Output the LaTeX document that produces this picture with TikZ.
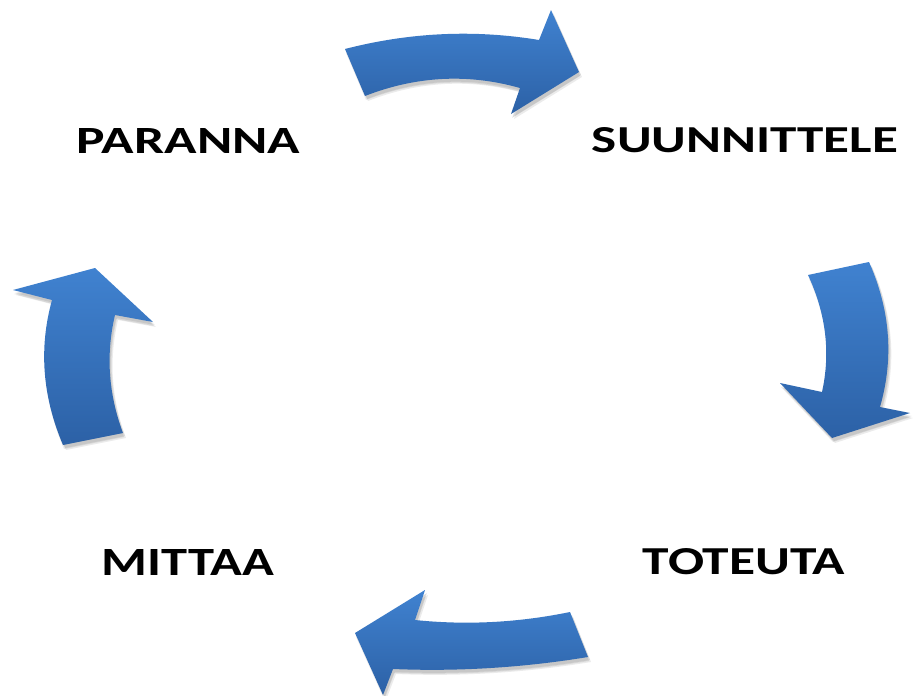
\documentclass[tikz,border=0pt]{standalone}
\usepackage{fontspec}
\setmainfont{Carlito}
\usepackage{graphicx}
\definecolor{arrtop}{RGB}{64,130,208}
\definecolor{arrbot}{RGB}{44,97,166}
\tikzset{
  cyclearrow/.style={top color=arrtop, bottom color=arrbot, draw=none},
  arrshadow/.style={fill=black, fill opacity=0.08, draw=none},
  lbl/.style={inner sep=0pt, outer sep=0pt}
}
\newcommand{\lbltext}[3]{\resizebox{#1pt}{#2pt}{\bfseries #3}}
\newcommand{\toparr}[1]{\path[#1] (345,49) .. controls (409.7,32.3) and (474.3,29.3) .. (539,40) -- (551,10) -- (579,72) -- (511,114) -- (520,88) .. controls (468,73.3) and (416.3,76) .. (365,96) -- cycle;}
\newcommand{\rightarr}[1]{\path[#1] (808,275) -- (869,262) .. controls (890.3,310) and (894,358.3) .. (880,407) -- (910,413) -- (832,438) -- (780,383) -- (822,392) .. controls (830.7,352.7) and (826,313.7) .. (808,275) -- cycle;}
\newcommand{\bottomarr}[1]{\path[#1] (570,612) -- (588,657) .. controls (522.7,667.7) and (457.7,671.7) .. (393,669) -- (383,695) -- (355,633) -- (425,590) -- (415,620) .. controls (466.3,625.3) and (518,622.7) .. (570,612) -- cycle;}
\newcommand{\leftarr}[1]{\path[#1] (63,445) -- (123,433) .. controls (108.3,393.7) and (105.7,354.3) .. (115,315) -- (153,322) -- (95,268) -- (13,290) -- (52,300) .. controls (38.7,348) and (42.3,396.3) .. (63,445) -- cycle;}
\begin{document}
\begin{tikzpicture}[x=1pt,y=-1pt]
\useasboundingbox (0,0) rectangle (913,696);
\fill[white] (0,0) rectangle (913,696);
% soft shadows
\foreach \dx/\dy in {2/3,3/5,1/4} {
  \begin{scope}[shift={(\dx,\dy)}]
    \toparr{arrshadow}
    \rightarr{arrshadow}
    \bottomarr{arrshadow}
    \leftarr{arrshadow}
  \end{scope}
}
% arrows
\toparr{cyclearrow}
\rightarr{cyclearrow}
\bottomarr{cyclearrow}
\leftarr{cyclearrow}
% labels
\node[lbl] (suunnittele) at (745,140.5) {\lbltext{306}{25}{SUUNNITTELE}};
\node[lbl] (paranna) at (188.5,141) {\lbltext{223}{25}{PARANNA}};
\node[lbl] (mittaa) at (188,562) {\lbltext{172}{26}{MITTAA}};
\node[lbl] (toteuta) at (744,562) {\lbltext{202}{26}{TOTEUTA}};
\end{tikzpicture}
\end{document}
